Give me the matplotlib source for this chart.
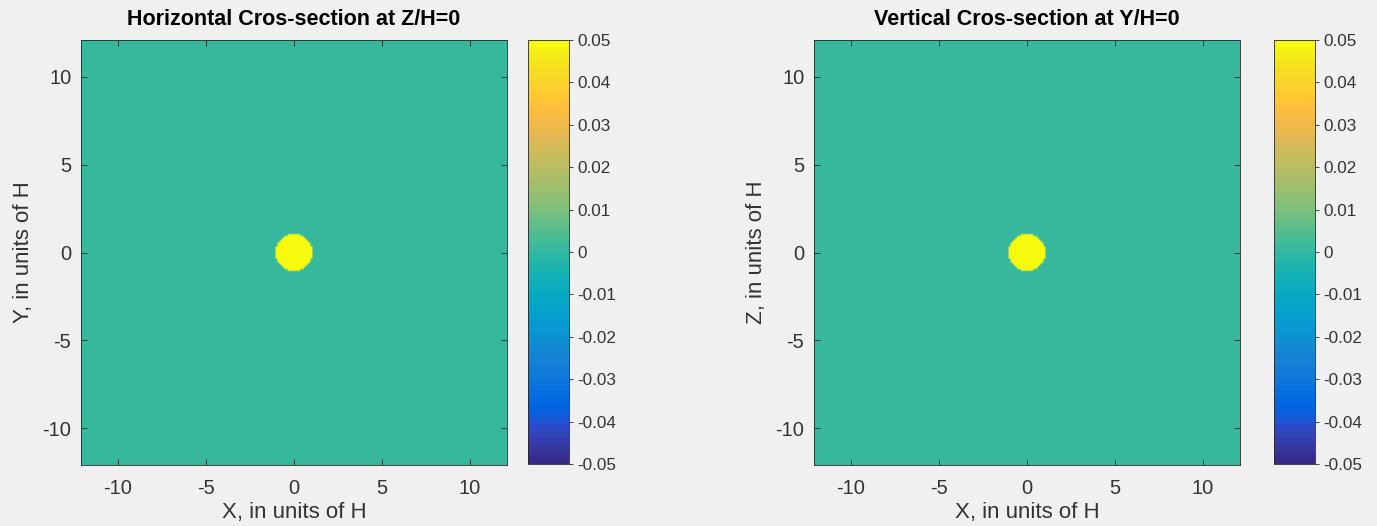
import matplotlib
matplotlib.use("Agg")
import matplotlib.pyplot as plt
import numpy as np
from matplotlib.colors import ListedColormap

plt.rcParams['font.family'] = ['Liberation Sans', 'DejaVu Sans']
plt.rcParams['axes.unicode_minus'] = False

# parula (MATLAB default), 64 entries
parula_rgb = [
    [0.2081, 0.1663, 0.5292], [0.2116, 0.1898, 0.5777], [0.2123, 0.2138, 0.6270],
    [0.2081, 0.2386, 0.6771], [0.1959, 0.2645, 0.7279], [0.1707, 0.2919, 0.7792],
    [0.1253, 0.3242, 0.8303], [0.0591, 0.3598, 0.8683], [0.0117, 0.3875, 0.8820],
    [0.0060, 0.4086, 0.8828], [0.0165, 0.4266, 0.8786], [0.0329, 0.4430, 0.8720],
    [0.0498, 0.4586, 0.8641], [0.0629, 0.4737, 0.8554], [0.0723, 0.4887, 0.8467],
    [0.0779, 0.5040, 0.8384], [0.0793, 0.5200, 0.8312], [0.0749, 0.5375, 0.8263],
    [0.0641, 0.5570, 0.8240], [0.0488, 0.5772, 0.8228], [0.0343, 0.5966, 0.8199],
    [0.0265, 0.6137, 0.8135], [0.0239, 0.6287, 0.8038], [0.0231, 0.6418, 0.7913],
    [0.0228, 0.6535, 0.7768], [0.0267, 0.6642, 0.7607], [0.0384, 0.6743, 0.7436],
    [0.0590, 0.6838, 0.7254], [0.0843, 0.6928, 0.7062], [0.1133, 0.7015, 0.6859],
    [0.1453, 0.7098, 0.6646], [0.1801, 0.7177, 0.6424], [0.2178, 0.7250, 0.6193],
    [0.2586, 0.7317, 0.5954], [0.3022, 0.7376, 0.5712], [0.3482, 0.7424, 0.5473],
    [0.3953, 0.7459, 0.5244], [0.4420, 0.7481, 0.5033], [0.4871, 0.7491, 0.4840],
    [0.5300, 0.7491, 0.4661], [0.5709, 0.7485, 0.4494], [0.6099, 0.7473, 0.4337],
    [0.6473, 0.7456, 0.4188], [0.6834, 0.7435, 0.4044], [0.7184, 0.7411, 0.3905],
    [0.7525, 0.7384, 0.3768], [0.7858, 0.7356, 0.3633], [0.8185, 0.7327, 0.3498],
    [0.8507, 0.7299, 0.3360], [0.8824, 0.7274, 0.3217], [0.9139, 0.7258, 0.3063],
    [0.9450, 0.7261, 0.2886], [0.9739, 0.7314, 0.2666], [0.9938, 0.7455, 0.2403],
    [0.9990, 0.7653, 0.2164], [0.9955, 0.7861, 0.1967], [0.9880, 0.8066, 0.1794],
    [0.9789, 0.8271, 0.1633], [0.9697, 0.8481, 0.1475], [0.9626, 0.8705, 0.1309],
    [0.9589, 0.8949, 0.1132], [0.9598, 0.9218, 0.0948], [0.9661, 0.9514, 0.0755],
    [0.9763, 0.9831, 0.0538]]
parula = ListedColormap(parula_rgb, name="parula")

# data
extent_lim = 12.1          # half-width of the domain, in units of H
grid_step = 0.1
source_radius = 1.05       # radius of the bright spot
source_value = 0.05
background_value = 0.0
clim = (-0.05, 0.05)
cbar_ticks = [-0.05, -0.04, -0.03, -0.02, -0.01, 0, 0.01, 0.02, 0.03, 0.04, 0.05]
cbar_labels = ["-0.05", "-0.04", "-0.03", "-0.02", "-0.01", "0",
               "0.01", "0.02", "0.03", "0.04", "0.05"]
axis_ticks = [-10, -5, 0, 5, 10]
titles = ["Horizontal Cros-section at Z/H=0", "Vertical Cros-section at Y/H=0"]
xlabels = ["X, in units of H", "X, in units of H"]
ylabels = ["Y, in units of H", "Z, in units of H"]

coords = np.arange(-extent_lim, extent_lim + grid_step / 2, grid_step)
gx, gy = np.meshgrid(coords, coords)
rr = np.hypot(gx, gy)
field = np.where(rr <= source_radius, source_value, background_value)

W, H = 1377, 526
fig = plt.figure(figsize=(W / 100, H / 100), dpi=100, facecolor="#f0f0f0")

ink = "#262626"
txt = "#333333"
panels = [(81, 528), (814, 1274)]
for i, (ax_x, cb_x) in enumerate(panels):
    ax = fig.add_axes([ax_x / W, 61 / H, 426 / W, 425 / H])
    im = ax.imshow(field, cmap=parula, vmin=clim[0], vmax=clim[1], origin="lower",
                   extent=[coords[0], coords[-1], coords[0], coords[-1]],
                   interpolation="bilinear", aspect="auto")
    ax.set_xlim(-extent_lim, extent_lim)
    ax.set_ylim(-extent_lim, extent_lim)
    ax.set_xticks(axis_ticks)
    ax.set_yticks(axis_ticks)
    ax.tick_params(direction="in", top=True, right=True, length=4, width=0.6,
                   color=ink, labelcolor=txt, labelsize=14.5)
    ax.tick_params(axis="x", pad=10)
    ax.tick_params(axis="y", pad=7)
    for s in ax.spines.values():
        s.set_color(ink)
        s.set_linewidth(0.6)
    ax.set_title(titles[i], fontsize=15.5, fontweight="bold", color="black", pad=11)
    ax.set_xlabel(xlabels[i], fontsize=16, color=txt, labelpad=3)
    ax.set_ylabel(ylabels[i], fontsize=16, color=txt, labelpad=6)

    cax = fig.add_axes([cb_x / W, 62 / H, 41 / W, 424 / H])
    cb = fig.colorbar(im, cax=cax, ticks=cbar_ticks)
    cb.ax.set_yticklabels(cbar_labels)
    cb.outline.set_edgecolor(ink)
    cb.outline.set_linewidth(0.6)
    cb.ax.tick_params(direction="out", length=3, width=0.6, color=ink,
                      labelcolor=txt, labelsize=12.3, pad=3)

fig.savefig("out.png", dpi=100, facecolor=fig.get_facecolor())
